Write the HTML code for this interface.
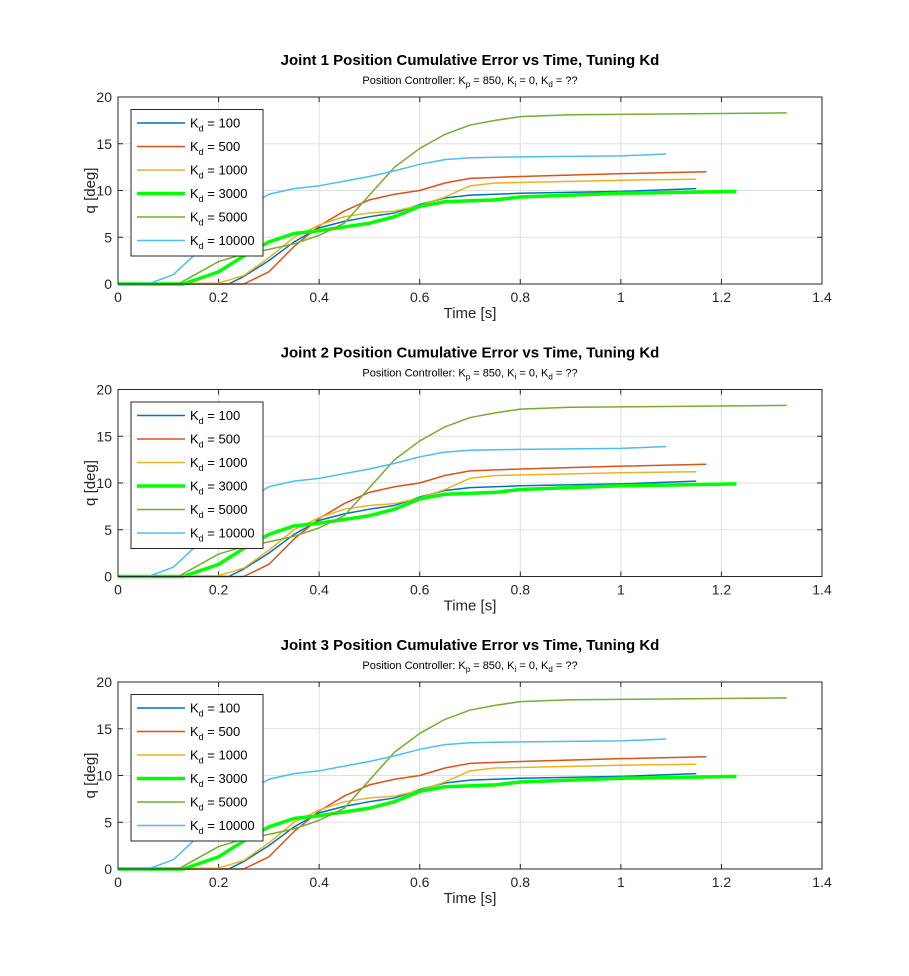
<!DOCTYPE html>
<html><head><meta charset="utf-8"><style>
body{margin:0;background:#fff;font-family:"Liberation Sans",Arial,sans-serif}
svg{display:block}
</style></head><body>
<svg id="fig" width="909" height="976" xmlns="http://www.w3.org/2000/svg" font-family="Liberation Sans, Arial, sans-serif"></svg>
<script>
const xTicks=[0,0.2,0.4,0.6,0.8,1,1.2,1.4];
const yTicks=[0,5,10,15,20];
const labels=["100","500","1000","3000","5000","10000"];
const colors=["#0072BD","#D95319","#EDB120","#00FF00","#77AC30","#4DBEEE"];
const widths=[1.5,1.5,1.5,3.5,1.5,1.5];
const t100=[0,0.22,0.25,0.3,0.35,0.4,0.45,0.5,0.55,0.6,0.65,0.7,0.8,1.0,1.15];
const v100=[0,0,0.8,2.5,4.5,6,6.7,7.2,7.6,8.5,9.2,9.5,9.7,9.9,10.2];
const t500=[0,0.25,0.3,0.35,0.4,0.45,0.5,0.55,0.6,0.65,0.7,0.8,1.0,1.17];
const v500=[0,0,1.3,4,6.2,7.8,9,9.6,10,10.8,11.3,11.5,11.8,12];
const t1000=[0,0.2,0.25,0.3,0.35,0.4,0.45,0.5,0.55,0.6,0.65,0.7,0.75,1.0,1.15];
const v1000=[0,0.1,0.9,2.8,5,6.3,7.2,7.6,7.8,8.4,9.3,10.5,10.8,11.1,11.2];
const t3000=[0,0.13,0.2,0.25,0.3,0.35,0.4,0.5,0.55,0.6,0.65,0.75,0.8,1.0,1.23];
const v3000=[0,0,1.3,3.0,4.5,5.4,5.7,6.5,7.2,8.3,8.8,9.0,9.3,9.7,9.9];
const t5000=[0,0.12,0.15,0.2,0.25,0.3,0.35,0.4,0.45,0.5,0.55,0.6,0.65,0.7,0.75,0.8,0.9,1.33];
const v5000=[0,0,0.9,2.4,3.2,3.7,4.3,5.2,6.5,9.5,12.5,14.5,16,17,17.5,17.9,18.1,18.3];
const t10000=[0,0.06,0.11,0.15,0.2,0.25,0.3,0.35,0.4,0.45,0.5,0.55,0.6,0.65,0.7,0.8,1.0,1.09];
const v10000=[0,0,1.0,3,5.5,8,9.6,10.2,10.5,11,11.5,12.1,12.8,13.3,13.5,13.6,13.7,13.9];
const T=[t100,t500,t1000,t3000,t5000,t10000];
const V=[v100,v500,v1000,v3000,v5000,v10000];
const NS="http://www.w3.org/2000/svg";
const svg=document.getElementById('fig');
function mk(tag,attrs,parent,text){const e=document.createElementNS(NS,tag);for(const k in attrs)e.setAttribute(k,attrs[k]);if(text!==undefined)e.textContent=text;parent.appendChild(e);return e;}
const L=118,R=822;
const offs=[0,292.5,585];
offs.forEach((o,pi)=>{
  const top=97+o,bot=284+o;
  const sx=v=>L+v/1.4*(R-L);
  const sy=v=>bot-v/20*(bot-top);
  const g=mk('g',{},svg);
  
  
  mk('rect',{x:L,y:top,width:R-L,height:bot-top,fill:'#fff'},g);
  xTicks.forEach(t=>{
    const l=mk('line',{x1:sx(t),x2:sx(t),y1:top,y2:bot,stroke:'#e0e0e0','stroke-width':1},g);
    
    mk('line',{x1:sx(t),x2:sx(t),y1:bot,y2:bot-5,stroke:'#262626'},g);
    mk('line',{x1:sx(t),x2:sx(t),y1:top,y2:top+5,stroke:'#262626'},g);
    const tx=mk('text',{x:sx(t),y:bot+18,'text-anchor':'middle','font-size':14,fill:'#262626'},g,String(t));
    
  });
  yTicks.forEach(t=>{
    mk('line',{x1:L,x2:R,y1:sy(t),y2:sy(t),stroke:'#e0e0e0'},g);
    mk('line',{x1:L,x2:L+5,y1:sy(t),y2:sy(t),stroke:'#262626'},g);
    mk('line',{x1:R,x2:R-5,y1:sy(t),y2:sy(t),stroke:'#262626'},g);
    const tx=mk('text',{x:L-6,y:sy(t)+5,'text-anchor':'end','font-size':14,fill:'#262626'},g,String(t));
    
  });
  T.forEach((ts,si)=>{
    const p=mk('polyline',{points:ts.map((t,i)=>sx(t)+','+sy(V[si][i])).join(' '),fill:'none',stroke:colors[si],'stroke-width':widths[si],'stroke-linejoin':'round'},g);
    
  });
  mk('rect',{x:L,y:top,width:R-L,height:bot-top,fill:'none',stroke:'#262626','stroke-width':1},g);
  const ti=mk('text',{x:470,y:top-32,'text-anchor':'middle','font-size':15,'font-weight':'bold',fill:'#000'},g,'Joint '+(pi+1)+' Position Cumulative Error vs Time, Tuning Kd');
  
  const st=mk('text',{x:470,y:top-13,'text-anchor':'middle','font-size':11,fill:'#000'},g);
  
  st.innerHTML='Position Controller: K<tspan dy="3" font-size="8">p</tspan><tspan dy="-3"> = 850, K</tspan><tspan dy="3" font-size="8">i</tspan><tspan dy="-3"> = 0, K</tspan><tspan dy="3" font-size="8">d</tspan><tspan dy="-3"> = ??</tspan>';
  const xl=mk('text',{x:470,y:bot+34,'text-anchor':'middle','font-size':15,fill:'#262626'},g,'Time [s]');
  
  const yl=mk('text',{x:0,y:0,transform:'translate(95,'+((top+bot)/2)+') rotate(-90)','text-anchor':'middle','font-size':15,fill:'#262626'},g,'q [deg]');
  
  const lg=mk('g',{},g);
  
  mk('rect',{x:131,y:109.5+o,width:132,height:146.5,fill:'#fff',stroke:'#262626'},lg);
  labels.forEach((lab,si)=>{
    const yy=123+o+si*23.5;
    const e=mk('g',{},lg);
    
    mk('line',{x1:137,x2:185,y1:yy,y2:yy,stroke:colors[si],'stroke-width':widths[si]},e);
    const t=mk('text',{x:190,y:yy+4.5,'font-size':13,fill:'#000'},e);
    t.innerHTML='K<tspan dy="4" font-size="9">d</tspan><tspan dy="-4"> = '+lab+'</tspan>';
  });
});
</script>
</body></html>
